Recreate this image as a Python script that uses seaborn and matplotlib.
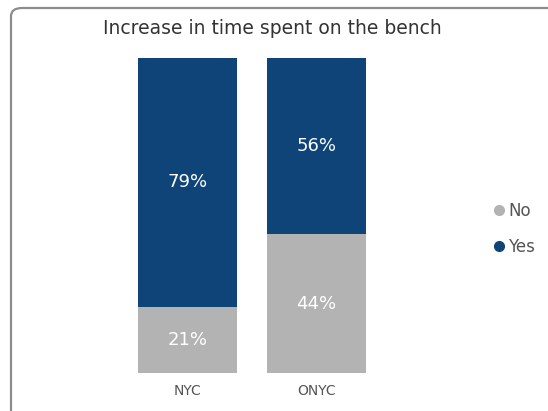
import matplotlib
matplotlib.use("Agg")
import matplotlib.pyplot as plt
import seaborn as sns
import pandas as pd
from matplotlib.patches import FancyBboxPatch
from matplotlib.lines import Line2D

# Survey responses (percent)
regions = ["NYC", "ONYC"]
no_pct = [21, 44]
yes_pct = [79, 56]

title = "Increase in time spent on the bench"
series_names = ["No", "Yes"]
colors = {"No": "#B3B3B3", "Yes": "#0E4478"}

sns.set_style("white")
plt.rcParams["font.family"] = ["DejaVu Sans"]

df = pd.DataFrame({"region": regions, "No": no_pct, "Yes": yes_pct})
df["Total"] = df["No"] + df["Yes"]

fig = plt.figure(figsize=(5.48, 4.11), dpi=100)
W, H = 548, 411

# Card border
card = FancyBboxPatch((11 / W, -20 / H), (W + 30) / W, (H + 12) / H,
                      boxstyle="round,pad=0,rounding_size=0.02",
                      transform=fig.transFigure, facecolor="white",
                      edgecolor="#8C8C8C", linewidth=1.6, zorder=-1)
fig.patches.append(card)

ax = fig.add_axes([123 / W, (H - 373) / H, 258 / W, 315 / H])
ax.patch.set_alpha(0)

# Stacked bars: full height in "Yes" colour, "No" segment drawn over the bottom
sns.barplot(data=df, x="region", y="Total", color=colors["Yes"], width=0.767,
            saturation=1, linewidth=0, ax=ax, zorder=2)
sns.barplot(data=df, x="region", y="No", color=colors["No"], width=0.767,
            saturation=1, linewidth=0, ax=ax, zorder=3)

for i, (n, y) in enumerate(zip(no_pct, yes_pct)):
    ax.text(i, n / 2, f"{n}%", ha="center", va="center", color="white",
            fontsize=13, zorder=4)
    ax.text(i, n + y / 2, f"{y}%", ha="center", va="center", color="white",
            fontsize=13, zorder=4)

ax.set_xlim(-0.5, 1.5)
ax.set_ylim(0, 100)
ax.set_xlabel("")
ax.set_ylabel("")
ax.set_yticks([])
ax.tick_params(axis="x", length=0, labelsize=10, labelcolor="#555555", pad=8)
for s in ax.spines.values():
    s.set_visible(False)

fig.text(272 / W, 1 - 28 / H, title, ha="center", va="center",
         fontsize=13.5, color="#333333")

handles = [Line2D([], [], marker="o", linestyle="", markersize=7,
                  color=colors[name]) for name in series_names]
fig.legend(handles, series_names, loc="center left",
           bbox_to_anchor=(476 / W, 1 - 229 / H), frameon=False,
           fontsize=12, labelcolor="#555555", handletextpad=0.05,
           labelspacing=1.1, handlelength=1.0)

fig.savefig("out.png", dpi=100)
